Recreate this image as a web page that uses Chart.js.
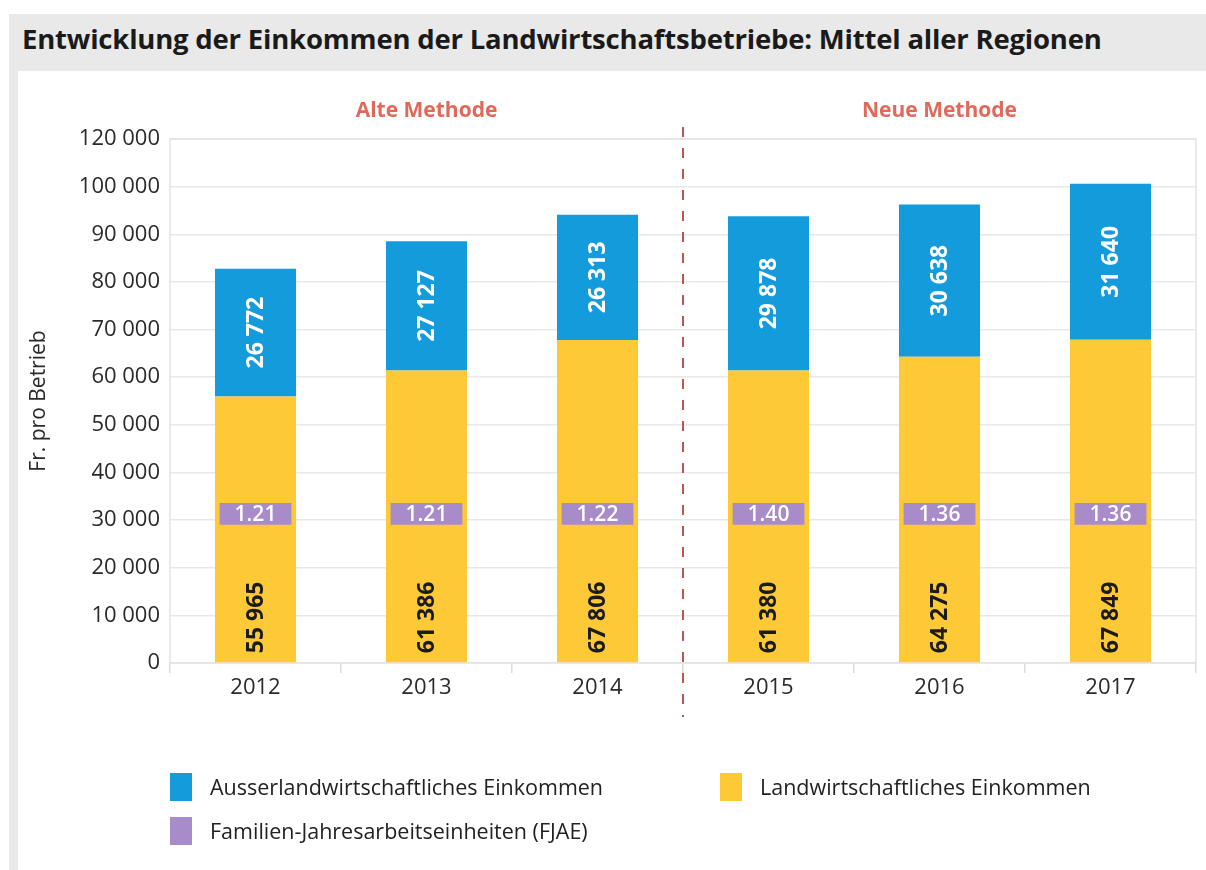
<!DOCTYPE html>
<html>
<head>
<meta charset="utf-8">
<script src="https://cdn.jsdelivr.net/npm/chart.js@4.4.1/dist/chart.umd.min.js"></script>
<style>
  html, body { margin: 0; padding: 0; background: #fff; }
  body { width: 1206px; height: 870px; position: relative; overflow: hidden; font-family: "Open Sans", sans-serif; }
  #frame { position: absolute; left: 9px; top: 14px; right: 0; bottom: 0; background: #e9e9e9; }
  #title { position: absolute; left: 22px; top: 20px; font: bold 27.5px "Open Sans", sans-serif; color: #1a1a1a; letter-spacing: -0.2px; }
  #panel { position: absolute; left: 18px; top: 71px; right: 0; bottom: 0; background: #fff; }
  #wrap { position: absolute; left: 18px; top: 72px; width: 1188px; height: 798px; }
  #legend { position: absolute; left: 170px; top: 772px; width: 1000px; font-size: 21.5px; color: #222; }
  .item { position: absolute; display: flex; align-items: center; white-space: nowrap; }
  .box { width: 22px; height: 28px; margin-right: 18px; }
</style>
</head>
<body>
<div id="frame"></div>
<div id="title">Entwicklung der Einkommen der Landwirtschaftsbetriebe: Mittel aller Regionen</div>
<div id="panel"></div>
<div id="wrap"><canvas id="einkommenChart" width="1188" height="798"></canvas></div>
<div id="legend"></div>
<script>
// values
var years = ['2012', '2013', '2014', '2015', '2016', '2017'];
var landwirtschaftlich = [55965, 61386, 67806, 61380, 64275, 67849];
var ausserlandwirtschaftlich = [26772, 27127, 26313, 29878, 30638, 31640];
// blue segments as they are drawn (new method bars stand a bit taller than their labels)
var ausserDrawn = [26772, 27127, 26313, 32400, 32000, 32750];
var fjae = [1.21, 1.21, 1.22, 1.40, 1.36, 1.36];
var fjaeBand = [29000, 33600]; // where the FJAE boxes sit on the axis
var yTickLabels = ['0', '10 000', '20 000', '30 000', '40 000', '50 000', '60 000', '70 000', '80 000', '90 000', '100 000', '120 000'];
var methodLabels = ['Alte Methode', 'Neue Methode'];
var legendNames = ['Ausserlandwirtschaftliches Einkommen', 'Landwirtschaftliches Einkommen', 'Familien-Jahresarbeitseinheiten (FJAE)'];

var BLUE = '#139bdb', YELLOW = '#fdc936', PURPLE = '#a88bc9', RED = '#e0695a';
var FONT = '"Open Sans", sans-serif';

function fmt(n) {
    return String(n).replace(/\B(?=(\d{3})+(?!\d))/g, ' ');
}

// frame around the plot, dashed method split and the two headings
var decorPlugin = {
    id: 'decor',
    beforeDatasetsDraw: function(chart) {
        var a = chart.chartArea, ctx = chart.ctx;
        ctx.save();
        ctx.strokeStyle = '#e3e3e3';
        ctx.lineWidth = 1.5;
        ctx.strokeRect(a.left, a.top, a.right - a.left, a.bottom - a.top);
        ctx.restore();
    },
    afterDraw: function(chart) {
        var a = chart.chartArea, ctx = chart.ctx, x = chart.scales.x;
        var split = (x.getPixelForValue(2) + x.getPixelForValue(3)) / 2;
        ctx.save();
        ctx.strokeStyle = '#bb574e';
        ctx.lineWidth = 2;
        ctx.setLineDash([10, 11]);
        ctx.beginPath();
        ctx.moveTo(split, a.top - 12);
        ctx.lineTo(split, a.bottom + 54);
        ctx.stroke();
        ctx.setLineDash([]);
        ctx.fillStyle = RED;
        ctx.font = 'bold 21px ' + FONT;
        ctx.textAlign = 'center';
        ctx.textBaseline = 'middle';
        ctx.fillText(methodLabels[0], x.getPixelForValue(1), a.top - 28);
        ctx.fillText(methodLabels[1], x.getPixelForValue(4), a.top - 28);
        ctx.restore();
    }
};

// value labels inside the bars
var valuePlugin = {
    id: 'values',
    afterDatasetsDraw: function(chart) {
        var ctx = chart.ctx;
        chart.data.datasets.forEach(function(ds, di) {
            var meta = chart.getDatasetMeta(di);
            meta.data.forEach(function(bar, i) {
                ctx.save();
                if (ds.labelMode === 'bottom' || ds.labelMode === 'center') {
                    var txt = fmt(ds.labelValues[i]);
                    ctx.font = 'bold 23px ' + FONT;
                    ctx.fillStyle = ds.labelColor;
                    ctx.translate(bar.x, ds.labelMode === 'bottom' ? bar.base - 9 : (bar.y + bar.base) / 2);
                    ctx.rotate(-Math.PI / 2);
                    ctx.textAlign = ds.labelMode === 'bottom' ? 'left' : 'center';
                    ctx.textBaseline = 'middle';
                    ctx.fillText(txt, 0, 1);
                } else if (ds.labelMode === 'box') {
                    ctx.font = '600 21px ' + FONT;
                    ctx.fillStyle = '#ffffff';
                    ctx.textAlign = 'center';
                    ctx.textBaseline = 'middle';
                    ctx.fillText(fjae[i].toFixed(2), bar.x, (bar.y + bar.base) / 2 + 1);
                }
                ctx.restore();
            });
        });
    }
};

var ctx = document.getElementById('einkommenChart').getContext('2d');
var chart = new Chart(ctx, {
    type: 'bar',
    data: {
        labels: years,
        datasets: [{
            label: legendNames[1],
            data: landwirtschaftlich,
            labelValues: landwirtschaftlich,
            backgroundColor: YELLOW,
            stack: 'einkommen',
            labelMode: 'bottom',
            labelColor: '#1b1b1b'
        }, {
            label: legendNames[0],
            data: ausserDrawn,
            labelValues: ausserlandwirtschaftlich,
            backgroundColor: BLUE,
            stack: 'einkommen',
            labelMode: 'center',
            labelColor: '#ffffff'
        }, {
            label: legendNames[2],
            data: years.map(function() { return fjaeBand.slice(); }),
            backgroundColor: PURPLE,
            yAxisID: 'yBand',
            order: -1, // drawn on top of the yellow bars
            barPercentage: 0.42,
            labelMode: 'box'
        }]
    },
    options: {
        responsive: false,
        animation: false,
        datasets: {
            bar: { grouped: false, categoryPercentage: 1, barPercentage: 0.474 }
        },
        layout: { padding: { top: 67, right: 10, left: 8, bottom: 157 } },
        plugins: {
            legend: { display: false },
            tooltip: { enabled: false }
        },
        scales: {
            x: {
                stacked: true,
                grid: { offset: true, drawOnChartArea: false, color: '#dcdcdc', tickLength: 10, lineWidth: 1.5 },
                border: { display: false },
                ticks: { color: '#2a2a2a', font: { family: FONT, size: 22 }, padding: 2 },
                afterFit: function(scale) { scale.height = 50; }
            },
            y: {
                stacked: true,
                min: 0,
                max: 110000,
                ticks: {
                    stepSize: 10000,
                    color: '#2a2a2a',
                    font: { family: FONT, size: 22 },
                    padding: 10,
                    callback: function(v, i) { return yTickLabels[i]; }
                },
                grid: { color: '#e8e8e8', lineWidth: 1.5, drawTicks: false },
                border: { display: false },
                title: { display: true, text: 'Fr. pro Betrieb', color: '#2a2a2a', font: { family: FONT, size: 21 }, padding: { top: 0, bottom: 4 } },
                afterFit: function(scale) { scale.width = 144; }
            },
            yBand: {
                display: false,
                stacked: false,
                min: 0,
                max: 110000
            }
        }
    },
    plugins: [decorPlugin, valuePlugin]
});

// legend laid out in two columns like the original
var legendEl = document.getElementById('legend');
var legendItems = [
    { text: legendNames[0], color: BLUE, left: 0, top: 0 },
    { text: legendNames[1], color: YELLOW, left: 550, top: 0 },
    { text: legendNames[2], color: PURPLE, left: 0, top: 44 }
];
legendItems.forEach(function(it) {
    var d = document.createElement('div');
    d.className = 'item';
    d.style.left = it.left + 'px';
    d.style.top = it.top + 'px';
    d.innerHTML = '<span class="box" style="background:' + it.color + '"></span><span>' + it.text + '</span>';
    legendEl.appendChild(d);
});
</script>
</body>
</html>
